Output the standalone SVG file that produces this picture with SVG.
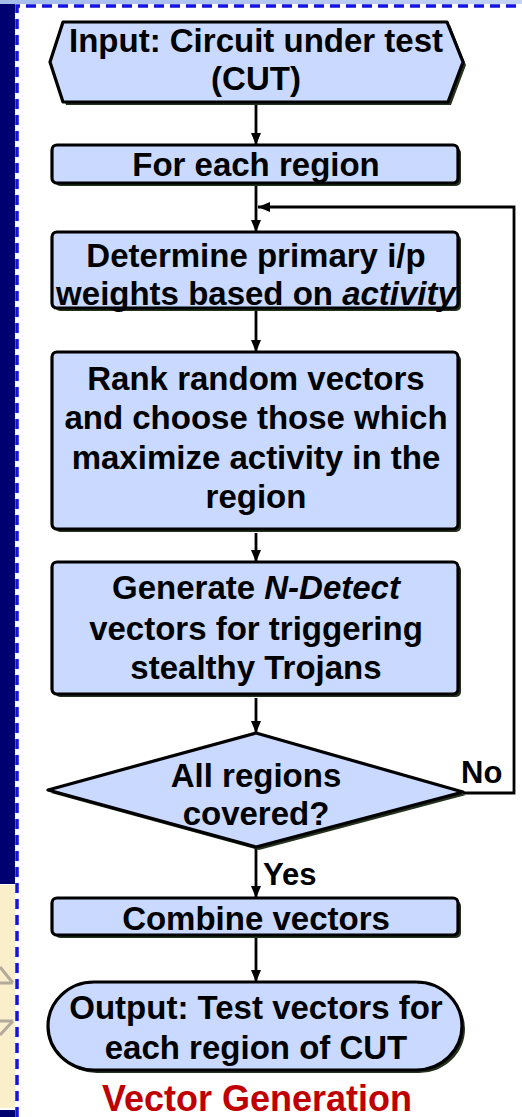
<svg xmlns="http://www.w3.org/2000/svg" width="522" height="1117" viewBox="0 0 522 1117">
<style>
.box{fill:#C9D9FF;stroke:#000;stroke-width:3.2;stroke-linejoin:round}
.sh{fill:#25321f}
.t{font-family:"Liberation Sans",Arial,sans-serif;font-weight:bold;font-size:33px;text-anchor:middle;fill:#000}
.lbl{font-family:"Liberation Sans",Arial,sans-serif;font-weight:bold;font-size:31px;fill:#000}
.conn{stroke:#000;stroke-width:2.8;fill:none}
.dash{stroke:#1414DC;stroke-width:3.5;stroke-dasharray:10 6;fill:none}
.chev{stroke:#B3AA9C;stroke-width:3;fill:none}
</style>
<defs>
<linearGradient id="topg" x1="0" y1="0" x2="1" y2="0">
<stop offset="0" stop-color="#A6BDEB"/><stop offset="1" stop-color="#C4D4F2"/>
</linearGradient>
<marker id="ah" markerWidth="12" markerHeight="12" refX="12" refY="6" orient="auto" markerUnits="userSpaceOnUse">
<path d="M0,1 L12,6 L0,11 Z" fill="#000"/>
</marker>
</defs>
<rect x="0" y="0" width="522" height="1117" fill="#fff"/>
<rect x="0" y="0" width="522" height="4" fill="url(#topg)"/>
<rect x="0" y="4" width="15" height="880" fill="#000070"/>
<rect x="0" y="885" width="15" height="223" fill="#FBEFCB"/>
<rect x="0" y="1110" width="15" height="7" fill="#000070"/>
<path class="chev" d="M0,967 L13,983 M0,983 L13,983 M0,1035 L13,1021 M0,1021 L13,1021"/>
<path class="dash" d="M17,1117 L17,6 L522,6"/>

<g id="connectors">
<line class="conn" x1="256" y1="103" x2="256" y2="145" marker-end="url(#ah)"/>
<line class="conn" x1="256" y1="184" x2="256" y2="232" marker-end="url(#ah)"/>
<line class="conn" x1="256" y1="311" x2="256" y2="352" marker-end="url(#ah)"/>
<line class="conn" x1="256" y1="533" x2="256" y2="562" marker-end="url(#ah)"/>
<line class="conn" x1="256" y1="698" x2="256" y2="733" marker-end="url(#ah)"/>
<line class="conn" x1="256" y1="848" x2="256" y2="898" marker-end="url(#ah)"/>
<line class="conn" x1="256" y1="938" x2="256" y2="982" marker-end="url(#ah)"/>
<polyline class="conn" points="463,793 514,793 514,207 258,207" marker-end="url(#ah)"/>
<text class="lbl" x="461" y="783">No</text>
<text class="lbl" x="263" y="885">Yes</text>
</g>

<g id="input">
<path class="sh" transform="translate(3,3)" d="M63,22 L447,22 L463,62 L448,102 L63,102 L50,62 Z"/>
<path class="box" d="M63,22 L447,22 L463,62 L448,102 L63,102 L50,62 Z"/>
<text class="t" x="256" y="52">Input: Circuit under test</text>
<text class="t" x="256" y="90">(CUT)</text>
</g>

<g id="for-each">
<rect class="sh" x="55" y="148" width="406" height="38" rx="5"/>
<rect class="box" x="52" y="145" width="406" height="38" rx="5"/>
<text class="t" x="256" y="176">For each region</text>
</g>

<g id="determine">
<rect class="sh" x="55" y="235" width="406" height="76" rx="5"/>
<rect class="box" x="52" y="232" width="406" height="76" rx="5"/>
<text class="t" x="256" y="267">Determine primary i/p</text>
<text class="t" x="256" y="305">weights based on <tspan font-style="italic">activity</tspan></text>
</g>

<g id="rank">
<rect class="sh" x="55" y="355" width="406" height="177" rx="5"/>
<rect class="box" x="52" y="352" width="406" height="177" rx="5"/>
<text class="t" x="256" y="390">Rank random vectors</text>
<text class="t" x="256" y="429">and choose those which</text>
<text class="t" x="256" y="469">maximize activity in the</text>
<text class="t" x="256" y="508">region</text>
</g>

<g id="generate">
<rect class="sh" x="55" y="565" width="406" height="132" rx="5"/>
<rect class="box" x="52" y="562" width="406" height="132" rx="5"/>
<text class="t" x="256" y="599">Generate <tspan font-style="italic">N-Detect</tspan></text>
<text class="t" x="256" y="640">vectors for triggering</text>
<text class="t" x="256" y="679">stealthy Trojans</text>
</g>

<g id="decision">
<path class="sh" transform="translate(3,3)" d="M256,733 L463,792 L256,847 L48,790 Z"/>
<path class="box" d="M256,733 L463,792 L256,847 L48,790 Z"/>
<text class="t" x="256" y="787">All regions</text>
<text class="t" x="256" y="825">covered?</text>
</g>

<g id="combine">
<rect class="sh" x="55" y="901" width="406" height="37" rx="5"/>
<rect class="box" x="52" y="898" width="406" height="37" rx="5"/>
<text class="t" x="256" y="930">Combine vectors</text>
</g>

<g id="output">
<rect class="sh" x="51" y="985" width="414" height="88" rx="46" ry="44"/>
<rect class="box" x="48" y="982" width="414" height="88" rx="46" ry="44"/>
<text class="t" x="256" y="1019">Output: Test vectors for</text>
<text class="t" x="256" y="1059">each region of CUT</text>
</g>

<text id="caption" x="257" y="1111" font-family="Liberation Sans,Arial,sans-serif" font-weight="bold" font-size="36" text-anchor="middle" fill="#C00000">Vector Generation</text>
</svg>
